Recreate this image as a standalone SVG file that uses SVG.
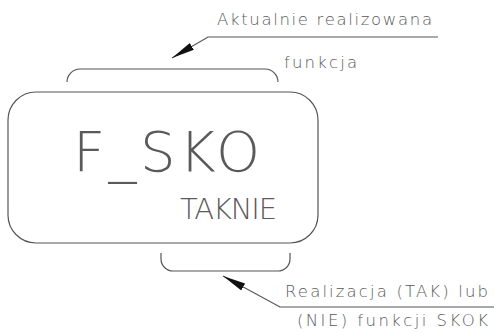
<svg xmlns="http://www.w3.org/2000/svg" width="494" height="333" viewBox="0 0 494 333">
<style>
.ln{fill:none;stroke:#555;stroke-width:1.2}
.t{font-family:"DejaVu Sans","Liberation Sans",sans-serif;font-weight:200;fill:#5a5a5a}
</style>
<defs>
<marker id="ah" markerWidth="24" markerHeight="10" refX="23" refY="4" orient="auto" markerUnits="userSpaceOnUse">
<path d="M0,0 L23,4 L0,8 Z" fill="#111"/>
</marker>
</defs>
<rect width="494" height="333" fill="#fff"/>
<g id="block">
<rect class="ln" x="8" y="92" width="310" height="151" rx="28" ry="28"/>
<text class="t" x="73" y="171" font-size="56" textLength="187" lengthAdjust="spacing">F_SKO</text>
<text class="t" x="180" y="219" font-size="29" textLength="97" lengthAdjust="spacing">TAKNIE</text>
</g>
<g id="top-bracket">
<path class="ln" d="M67,82 A13,13 0 0 1 80,69 L265,69 A13,13 0 0 1 278,82"/>
</g>
<g id="bottom-bracket">
<path class="ln" d="M161,253 L161,259 A12,12 0 0 0 173,271 L278,271 A12,12 0 0 0 290,259 L290,253"/>
</g>
<g id="label-top">
<text class="t" x="217" y="25" font-size="16.5" textLength="215" lengthAdjust="spacing">Aktualnie realizowana</text>
<text class="t" x="284" y="68" font-size="16.5" textLength="73" lengthAdjust="spacing">funkcja</text>
</g>
<g id="label-bottom">
<text class="t" x="285" y="297" font-size="16.5" textLength="203" lengthAdjust="spacing">Realizacja (TAK) lub</text>
<text class="t" x="297" y="326" font-size="16.5" textLength="191" lengthAdjust="spacing">(NIE) funkcji SKOK</text>
</g>
<g id="connectors">
<path class="ln" d="M438,37 L208,37 L172,58" marker-end="url(#ah)"/>
<path class="ln" d="M494,307 L280,307 L223,276" marker-end="url(#ah)"/>
</g>
</svg>
